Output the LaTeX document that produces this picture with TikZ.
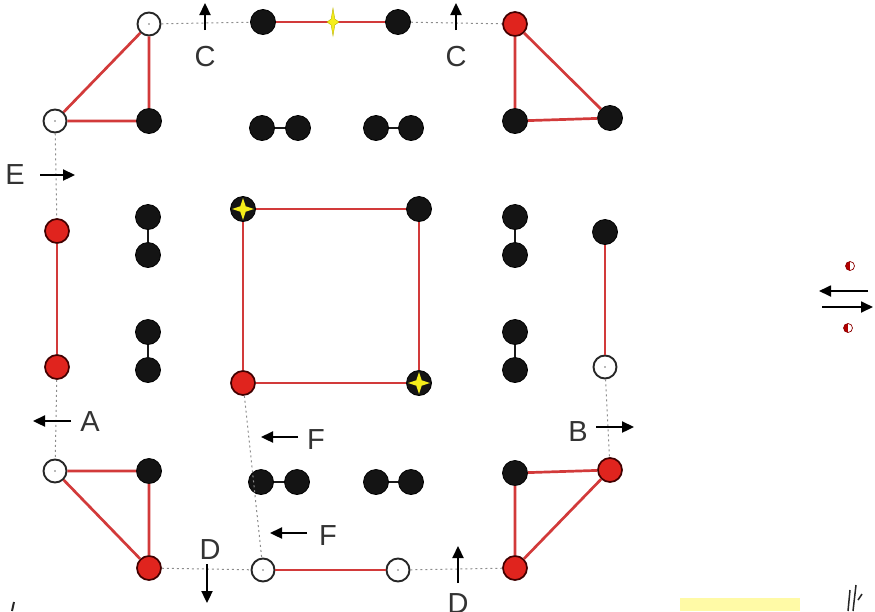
\documentclass[tikz,border=0pt]{standalone}
\usepackage{fontspec}
\setmainfont{Liberation Sans}
\usetikzlibrary{arrows.meta}
\definecolor{edgered}{HTML}{D23A3A}
\definecolor{nodered}{HTML}{E0241E}
\definecolor{starye}{HTML}{F5EE1A}
\begin{document}
\begin{tikzpicture}[x=1pt,y=-1pt,
  bk/.style={circle,fill=black!92,draw=black,line width=0.8pt,minimum size=25pt,inner sep=0pt},
  wh/.style={circle,fill=white,draw=black!85,line width=1.9pt,minimum size=23pt,inner sep=0pt,
     path picture={\fill[black!55] (path picture bounding box.center) circle (0.9pt);}},
  rd/.style={circle,fill=nodered,draw=black!75!red,line width=1.7pt,minimum size=24pt,inner sep=0pt},
  st/.style={bk,path picture={\fill[starye] (path picture bounding box.center)
     +(0,-11) -- +(2.7,-2.7) -- +(11,0) -- +(2.7,2.7) -- +(0,11) -- +(-2.7,2.7) -- +(-11,0) -- +(-2.7,-2.7) -- cycle;}},
  half/.style={circle,minimum size=9pt,inner sep=0pt,draw=red!55!black,line width=0.7pt,fill=white,
     path picture={\fill[red!70!black] (path picture bounding box.north) rectangle (path picture bounding box.south west);}},
  redge/.style={draw=edgered,line width=2.7pt},
  bond/.style={draw=black!90,line width=2.4pt},
  dotl/.style={draw=black!45,line width=1pt,dash pattern=on 2pt off 3pt},
  arr/.style={draw=black,line width=2.3pt,-{Triangle[length=12pt,width=11pt]}},
  lab/.style={font=\fontsize{29}{29}\selectfont,text=black!80,inner sep=0pt}
]
\useasboundingbox (0,0) rectangle (875,611);
% top-left triangle
\node[wh] (tla) at (149,24) {};
\node[bk] (tlb) at (149,121) {};
\node[wh] (tlc) at (55,121) {};
\draw[redge] (tla) -- (tlc) (tla) -- (tlb) (tlb) -- (tlc);
% top middle
\node[bk] (ta) at (263,22) {};
\node[bk] (tb) at (398,22) {};
\draw[redge] (ta) -- (tb);
\node[inner sep=0pt,minimum size=2pt] (tstar) at (333,22) {};
\fill[starye,draw=olive!60!yellow,line width=0.4pt] (tstar.center) +(0,-14) -- +(1.8,-3) -- +(6,0) -- +(1.8,3) -- +(0,14) -- +(-1.8,3) -- +(-6,0) -- +(-1.8,-3) -- cycle;
% top-right triangle
\node[rd] (tra) at (515,24) {};
\node[bk] (trb) at (515,121) {};
\node[bk] (trc) at (610,118) {};
\draw[redge] (tra) -- (trb) (tra) -- (trc) (trb) -- (trc);
% top dotted
\draw[dotl] (tla) -- (ta);
\draw[dotl] (tb) -- (tra);
% C arrows
\coordinate (c1s) at (205,30); \coordinate (c1e) at (205,3);
\draw[arr] (c1s) -- (c1e);
\node[lab] (c1) at (205,57) {C};
\coordinate (c2s) at (456,30); \coordinate (c2e) at (456,3);
\draw[arr] (c2s) -- (c2e);
\node[lab] (c2) at (456,57) {C};
% dimers
\node[bk] (d1a) at (262,128) {}; \node[bk] (d1b) at (298,128) {}; \draw[bond] (d1a) -- (d1b);
\node[bk] (d2a) at (376,128) {}; \node[bk] (d2b) at (411,128) {}; \draw[bond] (d2a) -- (d2b);
\node[bk] (d3a) at (148,217) {}; \node[bk] (d3b) at (148,255) {}; \draw[bond] (d3a) -- (d3b);
\node[bk] (d4a) at (148,332) {}; \node[bk] (d4b) at (148,370) {}; \draw[bond] (d4a) -- (d4b);
\node[bk] (d5a) at (515,217) {}; \node[bk] (d5b) at (515,255) {}; \draw[bond] (d5a) -- (d5b);
\node[bk] (d6a) at (515,332) {}; \node[bk] (d6b) at (515,370) {}; \draw[bond] (d6a) -- (d6b);
\node[bk] (d7a) at (261,482) {}; \node[bk] (d7b) at (297,482) {}; \draw[bond] (d7a) -- (d7b);
\node[bk] (d8a) at (376,482) {}; \node[bk] (d8b) at (411,482) {}; \draw[bond] (d8a) -- (d8b);
% center square
\node[st] (sqa) at (243,209) {};
\node[bk] (sqb) at (419,209) {};
\node[rd] (sqc) at (243,383) {};
\node[st] (sqd) at (419,383) {};
\draw[redge] (sqa) -- (sqb) (sqb) -- (sqd) (sqd) -- (sqc) (sqc) -- (sqa);
% left pair
\node[rd] (la) at (57,231) {};
\node[rd] (lb) at (57,367) {};
\draw[redge] (la) -- (lb);
\draw[dotl] (tlc) -- (la);
% right pair
\node[bk] (ra) at (605,232) {};
\node[wh] (rb) at (605,367) {};
\draw[redge] (ra) -- (rb);
% bottom-left triangle
\node[wh] (bla) at (55,471) {};
\node[bk] (blb) at (149,471) {};
\node[rd] (blc) at (149,568) {};
\draw[redge] (bla) -- (blb) (blb) -- (blc) (blc) -- (bla);
\draw[dotl] (lb) -- (bla);
% bottom-right triangle
\node[bk] (bra) at (515,473) {};
\node[rd] (brb) at (610,470) {};
\node[rd] (brc) at (515,568) {};
\draw[redge] (bra) -- (brb) (bra) -- (brc) (brc) -- (brb);
\draw[dotl] (rb) -- (brb);
% bottom middle
\node[wh] (ba) at (263,570) {};
\node[wh] (bb) at (398,570) {};
\draw[redge] (ba) -- (bb);
\draw[dotl] (blc) -- (ba);
\draw[dotl] (bb) -- (brc);
\draw[dotl] (sqc) -- (ba);
% E arrow
\node[lab] (e) at (15,175) {E};
\coordinate (es) at (40,175); \coordinate (ee) at (75,175);
\draw[arr] (es) -- (ee);
% A arrow
\coordinate (as) at (71,421); \coordinate (ae) at (33,421);
\draw[arr] (as) -- (ae);
\node[lab] (a) at (90,422) {A};
% B arrow
\node[lab] (b) at (578,432) {B};
\coordinate (bs) at (596,427); \coordinate (be) at (634,427);
\draw[arr] (bs) -- (be);
% F arrows
\coordinate (f1s) at (298,437); \coordinate (f1e) at (261,437);
\draw[arr] (f1s) -- (f1e);
\node[lab] (f1) at (316,440) {F};
\coordinate (f2s) at (307,533); \coordinate (f2e) at (270,533);
\draw[arr] (f2s) -- (f2e);
\node[lab] (f2) at (328,536) {F};
% D arrows
\node[lab] (dl1) at (210,550) {D};
\coordinate (d1s) at (207,564); \coordinate (d1e) at (207,603);
\draw[arr] (d1s) -- (d1e);
\coordinate (d2s) at (458,583); \coordinate (d2e) at (458,546);
\draw[arr] (d2s) -- (d2e);
\node[lab] (dl2) at (458,604) {D};
% right-side equilibrium symbol
\coordinate (eq1s) at (868,291); \coordinate (eq1e) at (819,291);
\draw[arr,line width=1.8pt] (eq1s) -- (eq1e);
\coordinate (eq2s) at (822,307); \coordinate (eq2e) at (873,307);
\draw[arr,line width=1.8pt] (eq2s) -- (eq2e);
\node[half,rotate=180] (h1) at (850,266) {};
\node[half] (h2) at (848,328) {};
% cut-off fragments at bottom edge
\fill[yellow!35] (680,598) rectangle (800,611);
\draw[black!85,line width=1.5pt] (848,611) -- (850,590) (853,611) -- (856,585) (858,600) -- (862,594);
\draw[black!85,line width=2pt] (12,611) -- (14,602);
\end{tikzpicture}
\end{document}
